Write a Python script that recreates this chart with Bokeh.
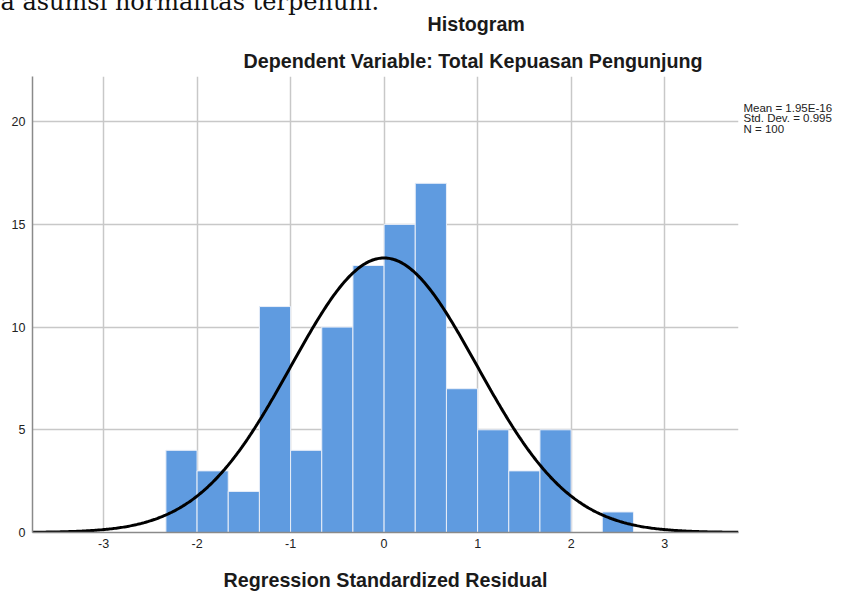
import numpy as np
from bokeh.plotting import figure
from bokeh.models import Range1d, FixedTicker, Title, LinearAxis, AllLabels
from bokeh.embed import file_html
from bokeh.resources import INLINE

# ---- data ----
BIN_LEFT = [-2.3333, -2.0, -1.6667, -1.3333, -1.0, -0.6667, -0.3333, 0.0,
            0.3333, 0.6667, 1.0, 1.3333, 1.6667, 2.0, 2.3333]
BIN_RIGHT = [-2.0, -1.6667, -1.3333, -1.0, -0.6667, -0.3333, 0.0, 0.3333,
             0.6667, 1.0, 1.3333, 1.6667, 2.0, 2.3333, 2.6667]
COUNTS = [4, 3, 2, 11, 4, 10, 13, 15, 17, 7, 5, 3, 5, 0, 1]
X_TICKS = [-3, -2, -1, 0, 1, 2, 3]
Y_TICKS = [0, 5, 10, 15, 20]
MEAN = 1.95e-16
STD = 0.995
N = 100
BIN_WIDTH = 1.0 / 3.0
STATS_LINES = ["Mean = 1.95E-16", "Std. Dev. = 0.995", "N = 100"]
STATS_Y = [20.69, 20.16, 19.63]   # vertical slots of the stats lines (y units)
TITLE = "Histogram"
SUBTITLE = "Dependent Variable: Total Kepuasan Pengunjung"
X_LABEL = "Regression Standardized Residual"
PAGE_TEXT = "a asumsi normalitas terpenuhi."

X0, X1 = -3.76, 3.79
Y0, Y1 = 0.0, 22.2

W, H = 847, 593
FONT = "Liberation Sans"

p = figure(width=W, height=H, output_backend="svg", toolbar_location=None,
           x_range=Range1d(X0, X1), y_range=Range1d(Y0, Y1),
           min_border_left=32, min_border_right=109, min_border_top=76,
           min_border_bottom=61)
p.outline_line_color = None
p.background_fill_color = "white"

# grids
p.xgrid.ticker = FixedTicker(ticks=X_TICKS)
p.ygrid.ticker = FixedTicker(ticks=Y_TICKS)
for g in (p.xgrid, p.ygrid):
    g.grid_line_color = "#c8c8c8"
    g.grid_line_width = 1.5

# axes
p.xaxis.ticker = FixedTicker(ticks=X_TICKS)
p.yaxis.ticker = FixedTicker(ticks=Y_TICKS)
p.xaxis.major_label_overrides = {t: str(t) for t in X_TICKS}
for ax in (p.xaxis, p.yaxis):
    ax.axis_line_color = "#8a8a8a"
    ax.axis_line_width = 1.5
    ax.major_tick_line_color = None
    ax.minor_tick_line_color = None
    ax.major_tick_out = 0
    ax.major_tick_in = 0
    ax.minor_tick_out = 0
    ax.major_label_text_font = FONT
    ax.major_label_text_color = "#222222"
    ax.major_label_text_font_size = "12.5px"
p.xaxis.major_label_standoff = 6
p.yaxis.major_label_standoff = 7
p.xaxis.axis_label = X_LABEL
p.xaxis.axis_label_text_font = FONT
p.xaxis.axis_label_text_font_style = "bold"
p.xaxis.axis_label_text_font_size = "19.7px"
p.xaxis.axis_label_text_color = "#1a1a1a"
p.xaxis.axis_label_standoff = 18

# bars
p.quad(left=BIN_LEFT, right=BIN_RIGHT, bottom=0, top=COUNTS,
       fill_color="#5f9be0", line_color="#e8eef8", line_width=1)

# normal curve from the displayed statistics
xs = np.linspace(X0, X1, 500)
ys = N * BIN_WIDTH * np.exp(-0.5 * ((xs - MEAN) / STD) ** 2) / (STD * np.sqrt(2 * np.pi))
p.line(xs, ys, line_color="black", line_width=3)

# titles (first added sits nearest the frame)
p.add_layout(Title(text=SUBTITLE, text_font=FONT, text_font_style="bold",
                   text_font_size="19.7px", text_color="#1a1a1a", align="left",
                   offset=211, standoff=8, vertical_align="middle"), "above")
p.add_layout(Title(text=TITLE, text_font=FONT, text_font_style="bold",
                   text_font_size="19.7px", text_color="#1a1a1a", align="left",
                   offset=395, standoff=17, vertical_align="middle"), "above")
# cropped line of surrounding document text, mostly above the page edge
p.add_layout(Title(text=PAGE_TEXT, text_font="DejaVu Serif", text_font_style="normal",
                   text_font_size="24px", text_color="#111111", align="left",
                   offset=-32, standoff=-27, vertical_align="middle"), "above")

# stats box: label-only axis on the right side
stats_axis = LinearAxis(ticker=FixedTicker(ticks=STATS_Y),
                        major_label_overrides=dict(zip(STATS_Y, STATS_LINES)),
                        major_label_policy=AllLabels(),
                        axis_line_color=None, major_tick_line_color=None,
                        minor_tick_line_color=None, major_tick_out=0, major_tick_in=0,
                        minor_tick_out=0, minor_tick_in=0, major_label_standoff=5,
                        major_label_text_font=FONT, major_label_text_font_size="11.5px",
                        major_label_text_color="#222222")
p.add_layout(stats_axis, "right")

open("out.html", "w").write(file_html(p, INLINE))
